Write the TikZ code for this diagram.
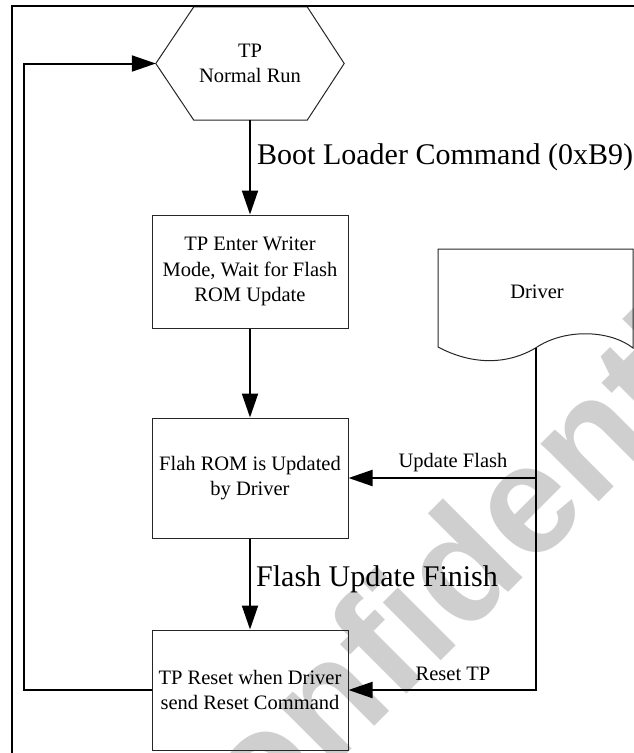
\documentclass[tikz,border=0pt]{standalone}
\usepackage{fontspec}
\setmainfont{Liberation Serif}
\setsansfont{Liberation Sans}
\usetikzlibrary{arrows.meta,calc}
\begin{document}
\begin{tikzpicture}[x=1pt,y=-1pt,
  boxline/.style={draw=black!85, line width=1pt},
  procbox/.style={boxline, minimum width=196pt, minimum height=#1, inner sep=0pt, align=center,
     font=\fontsize{20.5}{25.5}\selectfont},
  plaintext/.style={inner sep=0pt, align=center, font=\fontsize{20.5}{25.5}\selectfont},
  biglabel/.style={inner sep=0pt, anchor=west, font=\fontsize{30}{34}\selectfont},
  conn/.style={draw=black, line width=2pt, -{Triangle[length=24pt,width=16pt]}},
  frameline/.style={draw=black, line width=2.8pt},
  watermark/.style={text=black!19, inner sep=0pt, font=\fontsize{155}{155}\selectfont\sffamily\bfseries}
]
\useasboundingbox (0,0) rectangle (634,753);

% watermark
\node[watermark, rotate=45] (wm) at (461,562) {Confidential};

% hexagon start node
\node[plaintext, minimum width=188pt, minimum height=113pt] (hex) at (250,63.5) {TP\\Normal Run};
\draw[boxline] (hex.west) -- ($(hex.north west)+(38,0)$) -- ($(hex.north east)+(-37,0)$)
  -- (hex.east) -- ($(hex.south east)+(-37,0)$) -- ($(hex.south west)+(38,0)$) -- cycle;

% process boxes
\node[procbox=113pt] (box1) at (250,271.5) {TP Enter Writer\\Mode, Wait for Flash\\ROM Update};
\node[procbox=120pt] (box2) at (250,478) {Flah ROM is Updated\\by Driver};
\node[procbox=120pt] (box3) at (250,690) {TP Reset when Driver\\send Reset Command};

% driver document shape
\draw[boxline] (438,249) -- (633,249) -- (633,348)
  .. controls (610,330) and (565,328) .. (535.5,348)
  .. controls (505,366) and (470,364) .. (438,347) -- cycle;
\node[plaintext] (driver) at (537,292) {Driver};
\coordinate (dw) at (535.5,348);

% frame (left and top edges)
\draw[frameline] (12,753) -- (12,6) -- (634,6);

% main flow
\draw[conn] (hex.south) -- (box1.north);
\draw[conn] (box1.south) -- (box2.north);
\draw[conn] (box2.south) -- (box3.north);

% loop back
\coordinate (loop) at (24,0);
\draw[conn] (box3.west) -| (loop |- hex.west) -- (hex.west);

% driver connections
\draw[conn] (dw) |- (box3.east);
\draw[conn] (dw |- box2.east) -- (box2.east);

% labels
\node[biglabel] (lboot) at (257,157) {Boot Loader Command (0xB9)};
\node[biglabel] (lfinish) at (256,579) {Flash Update Finish};
\node[plaintext] (lupd) at (453,463) {Update Flash};
\node[plaintext] (lreset) at (453,674) {Reset TP};
\end{tikzpicture}
\end{document}
